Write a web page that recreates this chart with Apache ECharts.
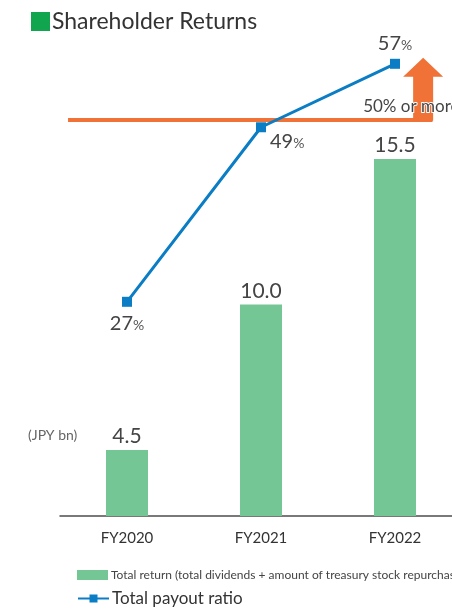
<!DOCTYPE html>
<html>
<head>
<meta charset="utf-8">
<script src="https://cdn.jsdelivr.net/npm/echarts@6/dist/echarts.min.js"></script>
<style>
  html, body { margin: 0; padding: 0; background: #fff; }
  #chart { width: 452px; height: 610px; }
</style>
</head>
<body>
<div id="chart"></div>
<script>
// Shareholder returns by fiscal year
const categories = ['FY2020', 'FY2021', 'FY2022'];
const totalReturn = [4.5, 10.0, 15.5];          // JPY bn
const payoutRatio = [27, 49, 57];               // %
const payoutTarget = 50;                        // % policy level
const targetLabel = '50% or more';
const barName = 'Total return (total dividends + amount of treasury stock repurchased)';
const lineName = 'Total payout ratio';

const FONT = 'Lato, "Open Sans", "Noto Sans", sans-serif';
const GREEN = '#74c795';
const BLUE = '#0a7dc4';
const ORANGE = '#f07236';

const chart = echarts.init(document.getElementById('chart'), null, { renderer: 'canvas' });

chart.setOption({
  animation: false,
  textStyle: { fontFamily: FONT },
  title: [
    {
      left: 31, top: 10, padding: 0,
      text: '{sq|}{t|Shareholder Returns}',
      textStyle: {
        fontWeight: 'normal',
        rich: {
          sq: { width: 19, height: 19, backgroundColor: '#12a550' },
          t: { fontSize: 23, color: '#333', fontWeight: 'normal', fontFamily: FONT, padding: [0, 0, 0, 2] }
        }
      }
    },
    {
      left: 28, top: 428, padding: 0,
      text: '(JPY bn)',
      textStyle: { fontSize: 14, color: '#666', fontWeight: 'normal', fontFamily: FONT }
    }
  ],
  grid: { left: 60, width: 402, top: 40, bottom: 94, outerBoundsMode: 'none', containLabel: false },
  xAxis: [
    {
      type: 'category',
      data: categories,
      axisLine: { lineStyle: { color: '#4d4d4d', width: 1.5 } },
      axisTick: { show: false },
      axisLabel: { fontSize: 15, color: '#333', margin: 15, fontFamily: FONT }
    },
    // numeric twin of the category axis, used to place the policy marker
    { type: 'value', min: -0.5, max: 2.5, show: false, splitLine: { show: false } }
  ],
  yAxis: [
    { type: 'value', min: 2, max: 20, show: false, splitLine: { show: false } },
    { type: 'value', min: 0, max: 60, show: false, splitLine: { show: false } }
  ],
  legend: [
    {
      left: 77, top: 569, padding: 0,
      itemWidth: 31, itemHeight: 10,
      data: [{ name: barName, icon: 'rect' }],
      textStyle: { fontSize: 12, color: '#444', fontFamily: '"Liberation Sans Narrow", ' + FONT, padding: [0, 0, 0, -2] }
    },
    {
      left: 77, top: 590, padding: 0,
      itemWidth: 31, itemHeight: 10,
      data: [{ name: lineName }],
      textStyle: { fontSize: 17, color: '#333', fontFamily: FONT, padding: [0, 0, 0, -2] }
    }
  ],
  series: [
    {
      name: barName,
      type: 'bar',
      yAxisIndex: 0,
      data: totalReturn,
      barWidth: 42,
      itemStyle: { color: GREEN },
      label: {
        show: true, position: 'top', distance: 3,
        fontSize: 21, color: '#444', fontFamily: FONT,
        formatter: p => p.value.toFixed(1)
      }
    },
    {
      name: lineName,
      type: 'line',
      yAxisIndex: 1,
      z: 4,
      data: payoutRatio.map((v, i) => {
        const pos = i === 0 ? { position: 'bottom', distance: 7 }
                  : i === 1 ? { position: 'right', distance: 4, offset: [0, 14] }
                  : { position: 'top', distance: 5 };
        return { value: v, label: pos };
      }),
      symbol: 'rect',
      symbolSize: 10,
      lineStyle: { color: BLUE, width: 3 },
      itemStyle: { color: BLUE },
      label: {
        show: true,
        formatter: p => '{n|' + p.value + '}{u|%}',
        rich: {
          n: { fontSize: 20, color: '#444', fontFamily: FONT },
          u: { fontSize: 14, color: '#555', fontFamily: FONT, padding: [4, 0, 0, 0] }
        }
      }
    },
    {
      // payout policy level with upward arrow
      name: 'target',
      type: 'line',
      xAxisIndex: 1,
      yAxisIndex: 1,
      z: 1,
      data: [],
      markLine: {
        z: 1,
        silent: true,
        symbol: 'none',
        label: { show: false },
        lineStyle: { color: ORANGE, width: 4, type: 'solid' },
        data: [[{ coord: [-0.44, payoutTarget] }, { coord: [2.28, payoutTarget] }]]
      },
      markPoint: {
        z: 2,
        silent: true,
        symbol: 'path://M20,0 L40,19 L30,19 L30,63 L10,63 L10,19 L0,19 Z',
        symbolSize: [40, 63],
        itemStyle: { color: ORANGE },
        label: {
          show: true,
          formatter: targetLabel,
          position: [-40, 40],
          align: 'left',
          verticalAlign: 'top',
          fontSize: 17,
          color: '#444',
          fontFamily: FONT,
          textBorderColor: '#fff',
          textBorderWidth: 2
        },
        data: [{ coord: [2.21, 53.8] }]
      }
    }
  ]
});
</script>
</body>
</html>
